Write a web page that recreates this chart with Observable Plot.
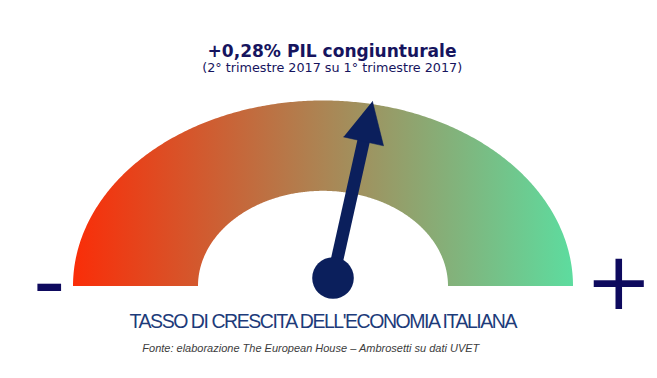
<!DOCTYPE html>
<html><head><meta charset="utf-8">
<script src="https://cdn.jsdelivr.net/npm/d3@7"></script>
<script src="https://cdn.jsdelivr.net/npm/@observablehq/plot@0.6"></script>
<style>
html,body{margin:0;padding:0;background:#fff;}
#chart svg{display:block;}
</style>
</head><body><div id="chart"></div>
<script>
// ---- Data ----
const gaugeValue = [0.28];          // variazione congiunturale del PIL, %
const gaugeDomain = [-2, 2];        // range of the gauge
const gaugeEnds = ["-", "+"];
const gaugeColors = ["#fa2d08", "#5ddc9f"];
const titleText = ["+0,28% PIL congiunturale"];
const subtitleText = ["(2° trimestre 2017 su 1° trimestre 2017)"];
const captionText = ["TASSO DI CRESCITA DELL'ECONOMIA ITALIANA"];
const sourceText = ["Fonte: elaborazione The European House – Ambrosetti su dati UVET"];

// ---- Layout ----
const W = 657, H = 378;
const xScale = {domain: [-1, 1], range: [72.5, 572.5]};
const yScale = {domain: [0, 1], range: [285.5, 100]};
const sx = Plot.scale({x: xScale});
const sy = Plot.scale({y: yScale});
const navy = "#0b1f5c";

// annulus (outer radius 1, inner radius ~0.5 in each axis' units)
const innerRx = 0.5, innerRy = 0.513;
const N = 360;
const ring = [];
for (let i = 0; i <= N; ++i) { const a = Math.PI * (1 - i / N); ring.push({x: Math.cos(a), y: Math.sin(a)}); }
for (let i = 0; i <= N; ++i) { const a = Math.PI * i / N; ring.push({x: innerRx * Math.cos(a), y: innerRy * Math.sin(a)}); }

// needle, computed in pixel space from the value then mapped back to data space
const t = (gaugeValue[0] - gaugeDomain[0]) / (gaugeDomain[1] - gaugeDomain[0]);
const theta = Math.PI * (1 - t);
const pivotPx = [332.5, 277.5];
const len = 181, headLen = 41, headHalf = 20.5;
const ux = Math.cos(theta), uy = -Math.sin(theta);
const vx = -uy, vy = ux;
const tipPx = [pivotPx[0] + len * ux, pivotPx[1] + len * uy];
const basePx = [tipPx[0] - headLen * ux, tipPx[1] - headLen * uy];
const toData = ([px, py]) => ({x: sx.invert(px), y: sy.invert(py)});
const pivot = toData(pivotPx);
const shaftEnd = toData([basePx[0] + 3 * ux, basePx[1] + 3 * uy]);
const head = [
  toData(tipPx),
  toData([basePx[0] + headHalf * vx, basePx[1] + headHalf * vy]),
  toData([basePx[0] - headHalf * vx, basePx[1] - headHalf * vy])
];

const txt = (data, o) => Plot.text(data, {frameAnchor: "top-left", text: d => d, textAnchor: "middle", lineAnchor: "bottom", ...o});

const plot = Plot.plot({
  width: W, height: H, margin: 0,
  style: {background: "#fff"},
  x: {...xScale, axis: null},
  y: {...yScale, axis: null},
  marks: [
    Plot.line(ring, {x: "x", y: "y", fill: "url(#gaugeGrad)", stroke: "none", curve: "linear"}),
    Plot.link([{a: pivot, b: shaftEnd}], {x1: d => d.a.x, y1: d => d.a.y, x2: d => d.b.x, y2: d => d.b.y, stroke: navy, strokeWidth: 12.5, strokeLinecap: "butt"}),
    Plot.line(head, {x: "x", y: "y", fill: navy, stroke: navy, strokeWidth: 0.5}),
    Plot.dot([pivot], {x: "x", y: "y", r: 20.8, fill: navy}),
    txt([gaugeEnds[0]], {dx: 48.7, dy: 311.7, fontFamily: "DejaVu Sans", fontSize: 90, fill: "#0e0a5e"}),
    txt([gaugeEnds[1]], {dx: 618.3, dy: 308, fontFamily: "DejaVu Sans", fontSize: 80, fill: "#0e0a5e"}),
    txt(titleText, {dx: 331.5, dy: 56, fontFamily: "DejaVu Sans", fontWeight: "bold", fontSize: 17.5, fill: "#16145e"}),
    txt(subtitleText, {dx: 331.7, dy: 71.7, fontFamily: "DejaVu Sans", fontSize: 12.5, fill: "#16145e"}),
    txt(captionText, {dx: 323, dy: 327.3, fontFamily: "Liberation Sans", fontSize: 19.5, fill: "#1d3b7a"}),
    txt(sourceText, {dx: 310.3, dy: 351, fontFamily: "Liberation Sans", fontStyle: "italic", fontSize: 11.5, fill: "#3c3c3c"})
  ]
});

const svg = d3.select(plot);
const defs = svg.insert("defs", ":first-child");
const grad = defs.append("linearGradient").attr("id", "gaugeGrad")
  .attr("x1", "0").attr("x2", "1").attr("y1", "0").attr("y2", "0");
grad.append("stop").attr("offset", "0").attr("stop-color", gaugeColors[0]);
grad.append("stop").attr("offset", "1").attr("stop-color", gaugeColors[1]);

const lengths = new Map([
  [titleText[0], [249, "spacingAndGlyphs"]],
  [subtitleText[0], [260, "spacingAndGlyphs"]],
  [captionText[0], [388, "spacing"]],
  [sourceText[0], [337, "spacingAndGlyphs"]]
]);
svg.selectAll("text").each(function () {
  const L = lengths.get(this.textContent);
  if (L) { this.setAttribute("textLength", L[0]); this.setAttribute("lengthAdjust", L[1]); }
});

document.getElementById("chart").appendChild(plot);
</script>
</body></html>
